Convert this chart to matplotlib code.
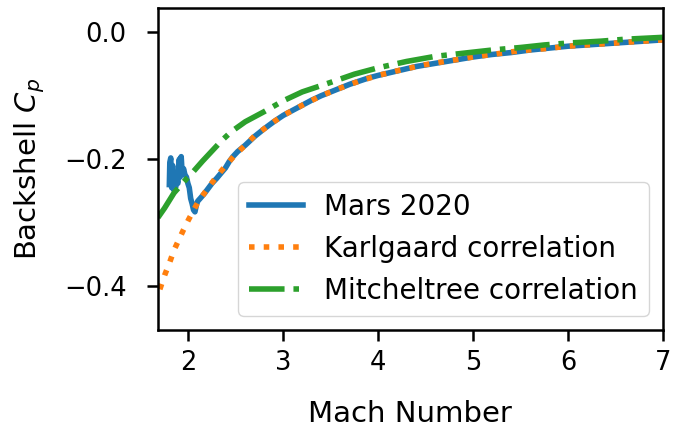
import matplotlib
matplotlib.use("Agg")
import matplotlib.pyplot as plt

# Mars 2020 flight data
mars_mach = [1.80, 1.805, 1.815, 1.825, 1.835, 1.845, 1.855, 1.865, 1.875, 1.89,
             1.905, 1.915, 1.925, 1.935, 1.95, 1.965, 1.98, 1.995, 2.01, 2.025,
             2.04, 2.055, 2.07, 2.085, 2.10, 2.13, 2.17, 2.21, 2.25, 2.30,
             2.35, 2.39, 2.43, 2.47, 2.52, 2.6, 2.7, 2.8, 2.9, 3.0,
             3.1, 3.2, 3.3, 3.4, 3.5, 3.6, 3.7, 3.8, 3.9, 4.0,
             4.2, 4.4, 4.6, 4.8, 5.0, 5.2, 5.4, 5.6, 5.8, 6.0,
             6.2, 6.4, 6.6, 6.8, 7.0]
mars_cp = [-0.240, -0.205, -0.198, -0.245, -0.210, -0.248, -0.225, -0.245, -0.232, -0.238,
           -0.200, -0.228, -0.196, -0.222, -0.215, -0.225, -0.228, -0.238, -0.245, -0.262,
           -0.270, -0.280, -0.283, -0.272, -0.266, -0.261, -0.254, -0.246, -0.238, -0.230,
           -0.221, -0.214, -0.204, -0.196, -0.188, -0.178, -0.164, -0.152, -0.141, -0.131,
           -0.123, -0.115, -0.107, -0.100, -0.094, -0.088, -0.082, -0.077, -0.072, -0.068,
           -0.061, -0.054, -0.049, -0.044, -0.039, -0.035, -0.032, -0.028, -0.025, -0.022,
           -0.020, -0.018, -0.016, -0.014, -0.012]

# Karlgaard correlation
karl_mach = [1.70, 1.75, 1.8, 1.85, 1.9, 1.95, 2.0, 2.1, 2.2, 2.3, 2.4, 2.5, 2.6, 2.7,
             2.8, 2.9, 3.0, 3.2, 3.4, 3.6, 3.8, 4.0, 4.25, 4.5, 4.75, 5.0, 5.25, 5.5,
             5.75, 6.0, 6.5, 7.0]
karl_cp = [-0.405, -0.383, -0.364, -0.343, -0.327, -0.311, -0.296, -0.268, -0.247, -0.227,
           -0.209, -0.192, -0.178, -0.163, -0.152, -0.141, -0.131, -0.115, -0.100, -0.088,
           -0.077, -0.068, -0.059, -0.051, -0.045, -0.039, -0.034, -0.029, -0.026, -0.022,
           -0.017, -0.012]

# Mitcheltree correlation
mitch_mach = [1.68, 1.75, 1.85, 1.95, 2.05, 2.15, 2.25, 2.35, 2.45, 2.6, 2.8, 3.0, 3.2,
              3.5, 3.75, 4.0, 4.3, 4.6, 4.9, 5.2, 5.5, 5.75, 6.0, 6.35, 6.6, 7.0]
mitch_cp = [-0.292, -0.277, -0.253, -0.236, -0.220, -0.203, -0.187, -0.171, -0.157, -0.141,
            -0.125, -0.108, -0.094, -0.079, -0.066, -0.056, -0.046, -0.038, -0.033, -0.028,
            -0.024, -0.020, -0.017, -0.014, -0.011, -0.008]

yticks = [-0.4, -0.2, 0.0]
xticks = [2, 3, 4, 5, 6, 7]

fig = plt.figure(figsize=(6.75, 4.29), dpi=100)
ax = fig.add_axes([0.234, 0.231, 0.748, 0.7515])

ax.plot(mars_mach, mars_cp, color="#1f77b4", lw=4, label="Mars 2020")
ax.plot(karl_mach, karl_cp, color="#ff7f0e", lw=4, ls=":", label="Karlgaard correlation")
ax.plot(mitch_mach, mitch_cp, color="#2ca02c", lw=4, ls="-.", label="Mitcheltree correlation")

ax.set_xlim(1.68, 7.0)
ax.set_ylim(-0.469, 0.039)
ax.set_xticks(xticks)
ax.set_yticks(yticks)
ax.set_yticklabels(["\u22120.4", "\u22120.2", "0.0"])

for s in ax.spines.values():
    s.set_linewidth(1.8)
ax.tick_params(axis="both", length=7.7, width=1.8, labelsize=18.5)
ax.tick_params(axis="x", pad=7)
ax.tick_params(axis="y", pad=15)

ax.set_xlabel("Mach Number", fontsize=21, labelpad=17)
ax.set_ylabel("Backshell $C_p$", fontsize=21, labelpad=12)

ax.legend(loc="lower right", fontsize=20, handlelength=1.95, handletextpad=0.75)

fig.savefig("out.png", dpi=100)
